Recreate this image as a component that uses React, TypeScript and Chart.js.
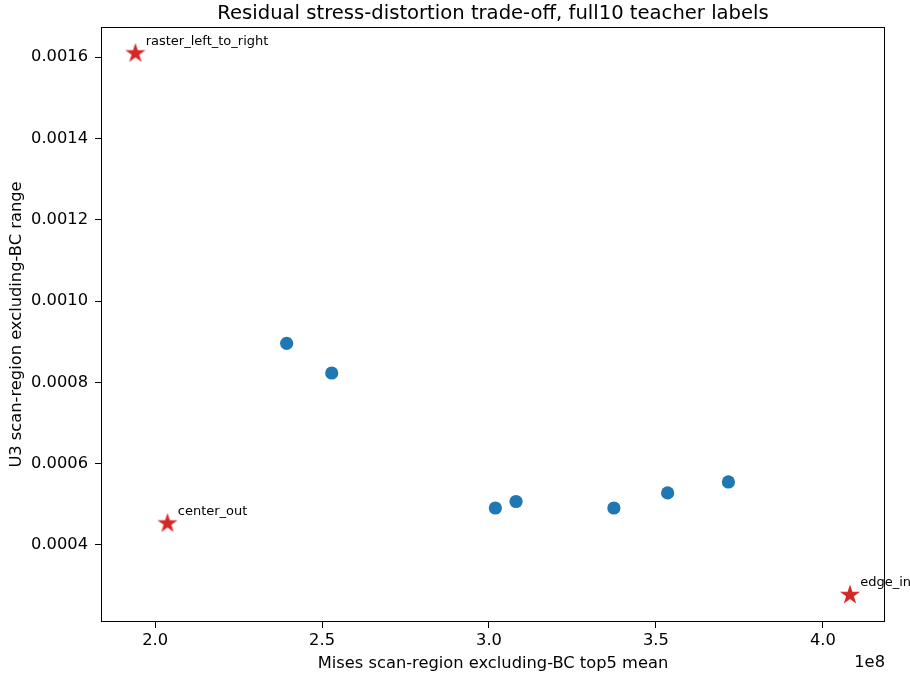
import React, { useEffect, useRef } from "react";
import { Chart, registerables } from "chart.js";

Chart.register(...registerables);

const titleText = "Residual stress-distortion trade-off, full10 teacher labels";
const xAxisLabel = "Mises scan-region excluding-BC top5 mean";
const yAxisLabel = "U3 scan-region excluding-BC range";

const dotX = [2.394e8, 2.529e8, 3.019e8, 3.081e8, 3.374e8, 3.535e8, 3.717e8];
const dotY = [0.000896, 0.000823, 0.000491, 0.000507, 0.000491, 0.000528, 0.000555];

const starLabels = ["raster_left_to_right", "center_out", "edge_in"];
const starX = [1.941e8, 2.037e8, 4.081e8];
const starY = [0.001609, 0.000453, 0.000277];

const xTicks = [2.0e8, 2.5e8, 3.0e8, 3.5e8, 4.0e8];
const yTicks = [0.0004, 0.0006, 0.0008, 0.001, 0.0012, 0.0014, 0.0016];

const X_MIN = 1.838e8;
const X_MAX = 4.186e8;
const Y_MIN = 0.0002106;
const Y_MAX = 0.001674;

const FONT = "'DejaVu Sans', sans-serif";

function makeStar(): HTMLCanvasElement {
  const c = document.createElement("canvas");
  c.width = 24;
  c.height = 24;
  const ctx = c.getContext("2d")!;
  const R = 10.6;
  const r = R * 0.381966;
  ctx.beginPath();
  for (let i = 0; i < 10; i++) {
    const rad = i % 2 === 0 ? R : r;
    const a = -Math.PI / 2 + (i * Math.PI) / 5;
    const x = 12 + rad * Math.cos(a);
    const y = 12 + rad * Math.sin(a);
    if (i === 0) ctx.moveTo(x, y);
    else ctx.lineTo(x, y);
  }
  ctx.closePath();
  ctx.fillStyle = "#d62728";
  ctx.fill();
  return c;
}

export default function App() {
  const ref = useRef<HTMLCanvasElement | null>(null);

  useEffect(() => {
    if (!ref.current) return;
    const star = makeStar();

    const overlay = {
      id: "overlay",
      afterDraw(chart: any) {
        const ctx = chart.ctx;
        const area = chart.chartArea;
        const xs = chart.scales.x;
        const ys = chart.scales.y;
        ctx.save();
        // frame
        ctx.strokeStyle = "#000";
        ctx.lineWidth = 1;
        const l = Math.round(area.left) + 0.5;
        const t = Math.round(area.top) + 0.5;
        const r = Math.round(area.right) - 0.5;
        const b = Math.round(area.bottom) - 0.5;
        ctx.strokeRect(l, t, r - l, b - t);
        // title
        ctx.fillStyle = "#000";
        ctx.textAlign = "center";
        ctx.textBaseline = "alphabetic";
        ctx.font = `19.6px ${FONT}`;
        const cx = (area.left + area.right) / 2;
        ctx.fillText(titleText, cx, 19);
        // x label
        ctx.font = `16.3px ${FONT}`;
        ctx.fillText(xAxisLabel, cx, 668);
        // 1e8
        ctx.textAlign = "right";
        ctx.fillText("1e8", area.right, 667);
        // y label
        ctx.save();
        ctx.translate(21, (area.top + area.bottom) / 2);
        ctx.rotate(-Math.PI / 2);
        ctx.textAlign = "center";
        ctx.fillText(yAxisLabel, 0, 0);
        ctx.restore();
        // annotations
        ctx.font = `13px ${FONT}`;
        ctx.textAlign = "left";
        for (let i = 0; i < starLabels.length; i++) {
          const px = xs.getPixelForValue(starX[i]);
          const py = ys.getPixelForValue(starY[i]);
          ctx.fillText(starLabels[i], px + 10.3, py - 8.8);
        }
        ctx.restore();
      },
    };

    const chart = new Chart(ref.current, {
      type: "scatter",
      data: {
        datasets: [
          {
            label: "candidates",
            data: dotX.map((x, i) => ({ x, y: dotY[i] })),
            backgroundColor: "#1f77b4",
            borderColor: "#1f77b4",
            borderWidth: 0,
            pointRadius: 6.6,
            pointHoverRadius: 6.6,
          },
          {
            label: "teacher",
            data: starX.map((x, i) => ({ x, y: starY[i] })),
            pointStyle: star as any,
            backgroundColor: "#d62728",
            borderColor: "#d62728",
            pointRadius: 10,
          },
        ],
      },
      plugins: [overlay],
      options: {
        responsive: false,
        animation: false,
        events: [],
        layout: { padding: { top: 27, right: 25, left: 0, bottom: 0 } },
        plugins: {
          legend: { display: false },
          tooltip: { enabled: false },
          title: { display: false },
        },
        scales: {
          x: {
            type: "linear",
            min: X_MIN,
            max: X_MAX,
            afterBuildTicks: (s: any) => {
              s.ticks = xTicks.map((v) => ({ value: v }));
            },
            afterFit: (s: any) => {
              s.height = 53;
            },
            ticks: {
              color: "#000",
              font: { family: FONT, size: 16.3 },
              padding: 3,
              maxRotation: 0,
              autoSkip: false,
              callback: (v: any) => (Number(v) / 1e8).toFixed(1),
            },
            grid: {
              drawOnChartArea: false,
              drawTicks: true,
              tickLength: 6,
              color: "#000",
            },
            border: { display: false },
          },
          y: {
            type: "linear",
            min: Y_MIN,
            max: Y_MAX,
            afterBuildTicks: (s: any) => {
              s.ticks = yTicks.map((v) => ({ value: v }));
            },
            afterFit: (s: any) => {
              s.width = 101;
            },
            ticks: {
              color: "#000",
              font: { family: FONT, size: 16.3 },
              padding: 7,
              autoSkip: false,
              callback: (v: any) => Number(v).toFixed(4),
            },
            grid: {
              drawOnChartArea: false,
              drawTicks: true,
              tickLength: 6,
              color: "#000",
            },
            border: { display: false },
          },
        },
      },
    });
    return () => chart.destroy();
  }, []);

  return (
    <div style={{ position: "fixed", left: 0, top: 0, width: 910, height: 675, background: "#fff" }}>
      <canvas ref={ref} width={910} height={675} style={{ width: 910, height: 675, display: "block" }} />
    </div>
  );
}
